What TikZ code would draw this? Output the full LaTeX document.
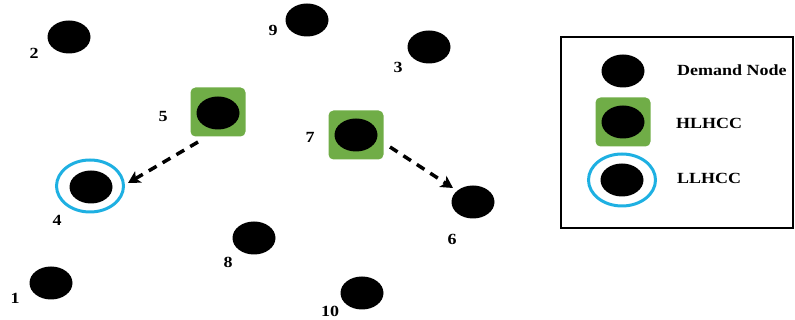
\documentclass[tikz,border=0pt]{standalone}
\usepackage{fontspec}
\setmainfont{Liberation Serif}
\usepackage{tikz}
\usetikzlibrary{positioning,arrows.meta,shapes.geometric}

\definecolor{hubgreen}{RGB}{112,173,71}
\definecolor{ringblue}{RGB}{30,176,226}

\tikzset{
  demand/.style={ellipse, fill=black, minimum width=43pt, minimum height=33pt, inner sep=0pt},
  hlhcc/.style={rectangle, rounded corners=5pt, fill=hubgreen, minimum width=55pt, minimum height=49pt, inner sep=0pt},
  llhcc/.style={ellipse, draw=ringblue, line width=3pt, minimum width=67pt, minimum height=52pt, inner sep=0pt},
  lbl/.style={font=\bfseries\fontsize{15.5pt}{18pt}\selectfont, xscale=1.16, inner sep=0pt},
  flow/.style={line width=3.5pt, dash pattern=on 9pt off 7pt, -{Stealth[length=12pt,width=13pt,inset=3pt]}}
}

\begin{document}
\begin{tikzpicture}[y=-1pt, x=1pt]
\useasboundingbox (0,0) rectangle (795,320);

% hubs and rings
\node [hlhcc] (h5) at (218,112) {};
\node [hlhcc] (h7) at (356,135) {};
\node [llhcc] (r4) at (90,186) {};

% demand nodes
\node [demand] (d1) at (51,283) {};
\node [demand] (d2) at (69,37) {};
\node [demand] (d3) at (429,47) {};
\node [demand] (d4) at (91,187) {};
\node [demand] (d5) at (218,113) {};
\node [demand] (d6) at (473,202) {};
\node [demand] (d7) at (356,135) {};
\node [demand] (d8) at (254,238) {};
\node [demand] (d9) at (307,20) {};
\node [demand] (d10) at (362,293) {};

\node [lbl] (n1) at (15,298) {1};
\node [lbl] (n2) at (34,53) {2};
\node [lbl] (n3) at (398,67) {3};
\node [lbl] (n4) at (57,220) {4};
\node [lbl] (n5) at (163,117) {5};
\node [lbl] (n6) at (452,239) {6};
\node [lbl] (n7) at (310,137) {7};
\node [lbl] (n8) at (228,262) {8};
\node [lbl] (n9) at (273,30) {9};
\node [lbl] (n10) at (330,311) {10};

% allocation
\draw [flow] ([xshift=-20pt,yshift=-30pt]h5.center) -- ([xshift=38pt,yshift=3pt]r4.center);
\draw [flow] ([xshift=34pt,yshift=-12pt]h7.center) -- ([xshift=-20pt,yshift=14pt]d6.center);

% legend
\node [draw, line width=2pt, minimum width=232pt, minimum height=191pt, inner sep=0pt] (key) at (677,132.5) {};
\node [demand] (kd) at (623,71) {};
\node [hlhcc] (kh) at (623,122) {};
\node [demand] (khd) at (623,122) {};
\node [llhcc] (kr) at (622,180) {};
\node [demand] (krd) at (622,180) {};
\node [lbl, anchor=west] (t1) at (677,70) {Demand Node};
\node [lbl, anchor=west] (t2) at (676,123) {HLHCC};
\node [lbl, anchor=west] (t3) at (677,178) {LLHCC};
\end{tikzpicture}
\end{document}
